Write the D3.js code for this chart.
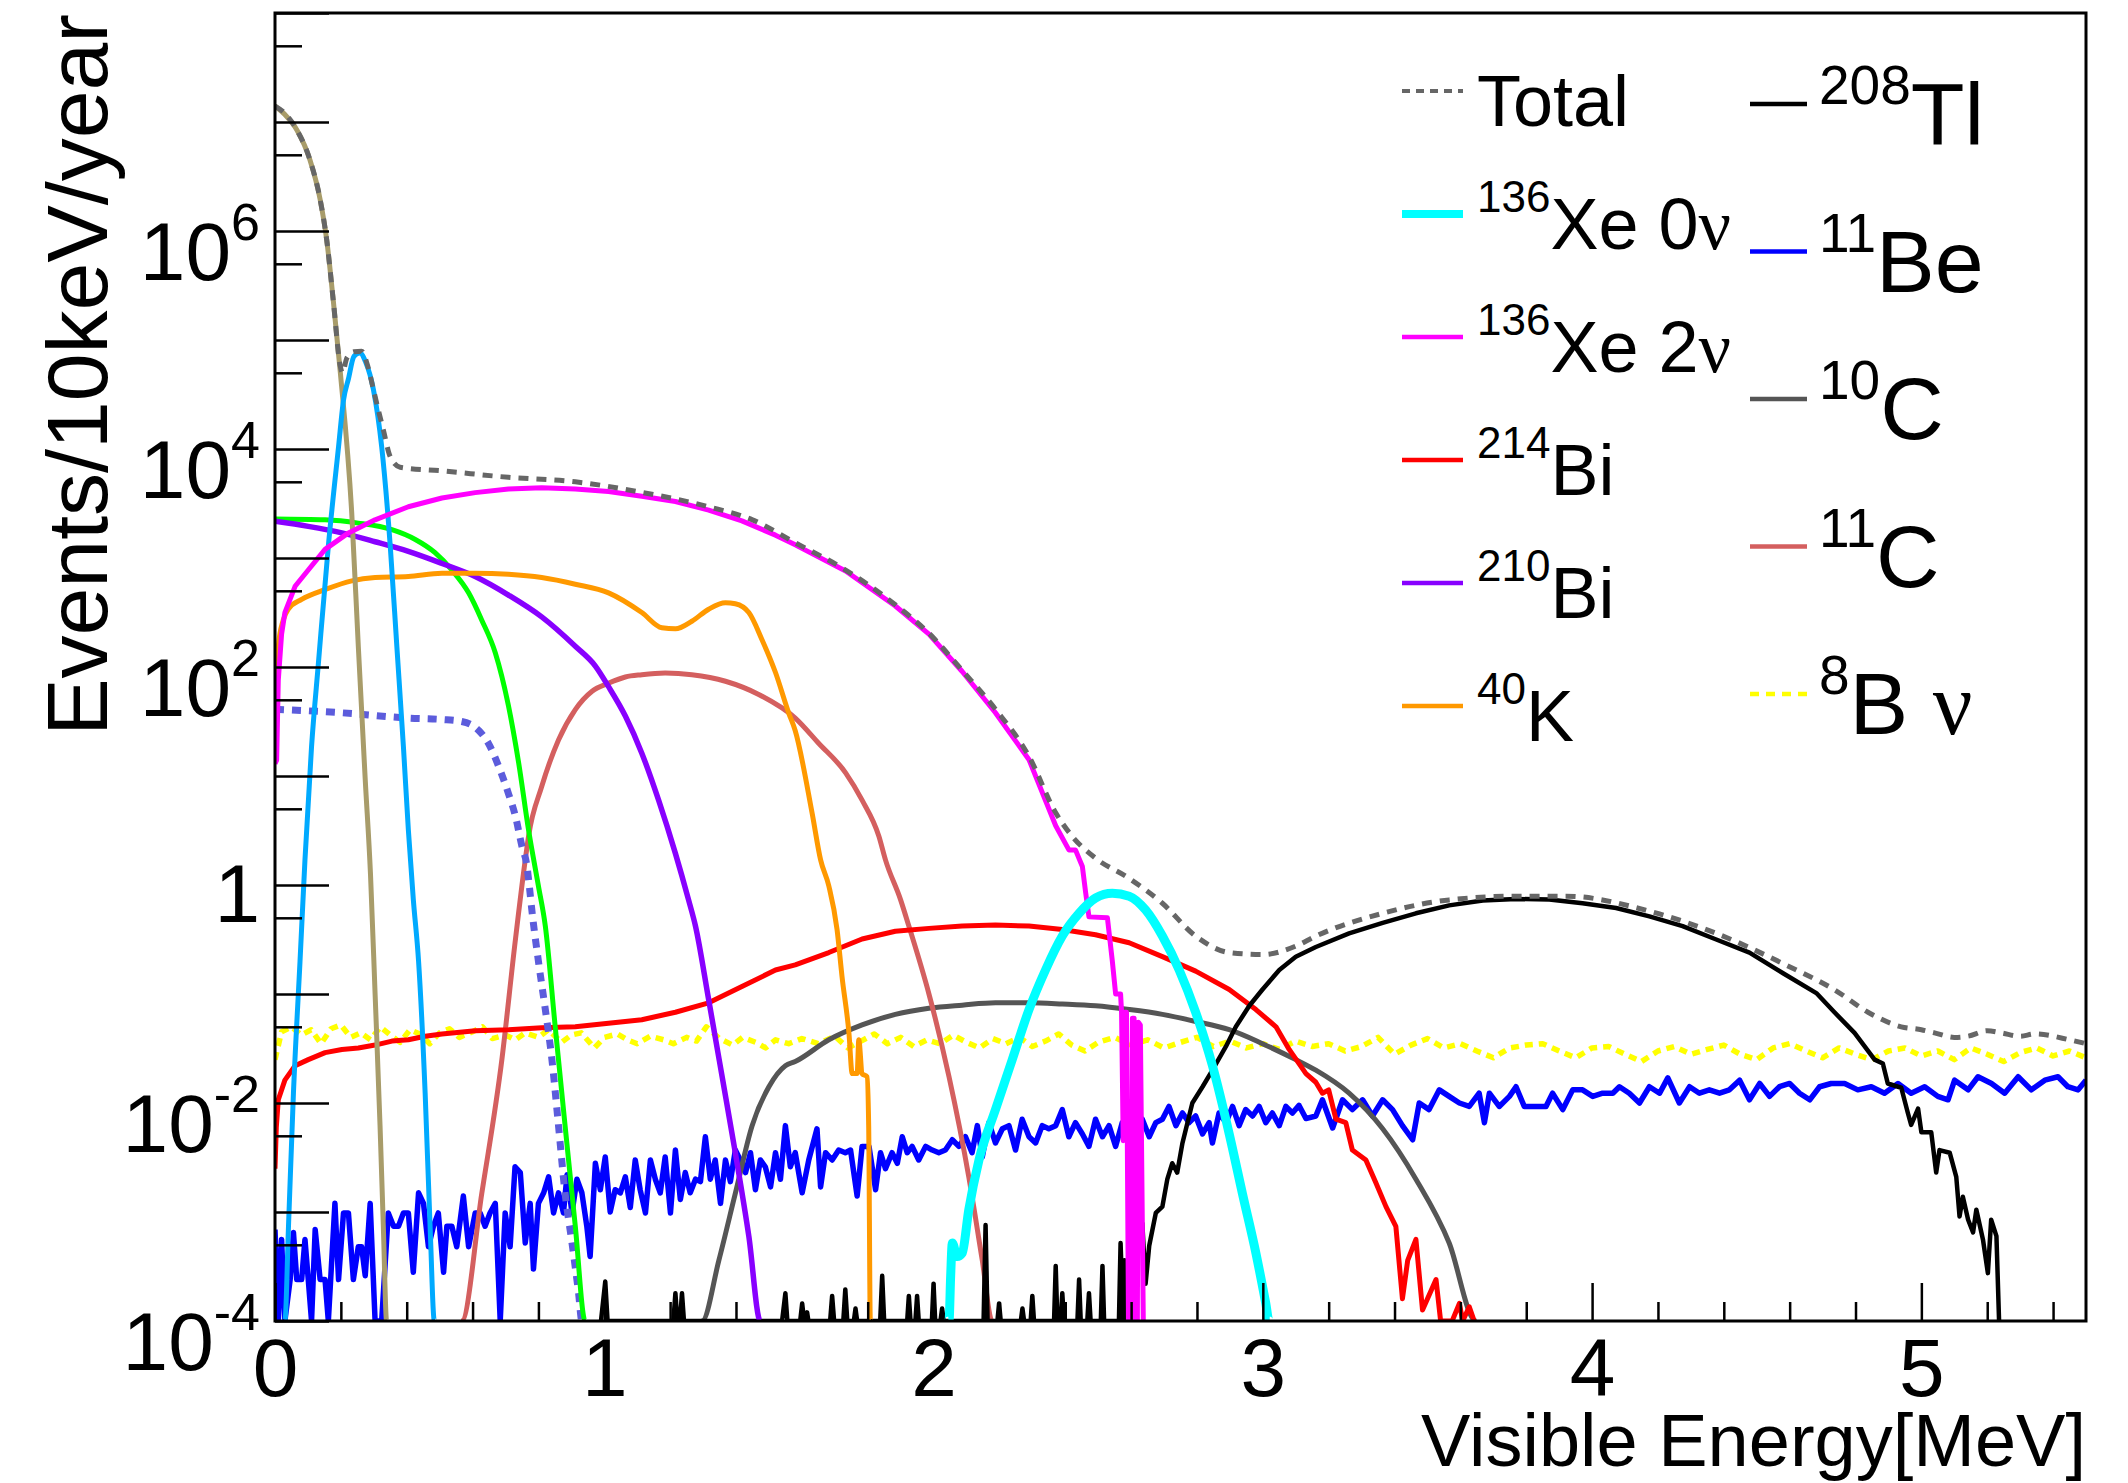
<!DOCTYPE html>
<html>
<head>
<meta charset="utf-8">
<script src="https://cdnjs.cloudflare.com/ajax/libs/d3/7.8.5/d3.min.js"></script>
<style>
  body { margin: 0; background: #fff; }
  text { font-family: "Liberation Sans", Arial, Helvetica, sans-serif; fill: #000; }
</style>
</head>
<body>
<div id="my_dataviz"></div>
<script>
// every series: [visible energy (MeV), events/10keV/year], 0 = empty bin
var totalData = [[0,1.4e7],[0.03,1.2e7],[0.066,8.5e6],[0.106,4.5e6],[0.137,1.95e6],[0.157,8.3e5],[0.177,2.3e5],[0.198,5.8e4],[0.205,5.0e4],[0.218,6.8e4],[0.24,7.8e4],[0.263,7.9e4],[0.28,6.0e4],[0.299,3.5e4],[0.315,2.2e4],[0.329,1.5e4],[0.35,8.5e3],[0.38,6.8e3],[0.507,6.3e3],[0.709,5.5e3],[0.912,5.0e3],[1.114,4.0e3],[1.317,2.95e3],[1.45,2.24e3],[1.58,1.38e3],[1.733,776],[1.884,372],[1.986,204],[2.087,93],[2.188,41],[2.29,15.1],[2.371,4.6],[2.421,2.8],[2.49,1.78],[2.594,1.15],[2.695,0.68],[2.796,0.34],[2.898,0.24],[2.999,0.23],[3.1,0.275],[3.161,0.34],[3.364,0.55],[3.566,0.73],[3.769,0.79],[3.921,0.79],[4.174,0.575],[4.377,0.36],[4.58,0.19],[4.741,0.107],[4.838,0.068],[4.939,0.05],[5.0,0.047],[5.04,0.044],[5.1,0.04],[5.142,0.041],[5.2,0.046],[5.243,0.044],[5.3,0.041],[5.344,0.043],[5.45,0.038],[5.5,0.035]];

var xe0nData = [[2.045,0],[2.047,1e-4],[2.052,2.6e-4],[2.057,5.2e-4],[2.072,3.9e-4],[2.087,4.2e-4],[2.107,1.05e-3],[2.138,3.0e-3],[2.188,8.7e-3],[2.239,2.5e-2],[2.29,7.2e-2],[2.34,0.166],[2.391,0.34],[2.442,0.55],[2.492,0.76],[2.543,0.84],[2.594,0.79],[2.644,0.59],[2.695,0.34],[2.746,0.166],[2.796,6.8e-2],[2.847,2.2e-2],[2.898,5.2e-3],[2.938,1.48e-3],[2.979,4.2e-4],[3.009,1.45e-4],[3.019,1e-4],[3.021,0]];

var xe2nData = [[0,13],[0.005,14],[0.01,76],[0.02,200],[0.03,316],[0.061,550],[0.101,776],[0.152,1.2e3],[0.223,1.7e3],[0.304,2.24e3],[0.405,2.95e3],[0.507,3.55e3],[0.608,3.98e3],[0.709,4.3e3],[0.81,4.4e3],[0.912,4.3e3],[1.013,4.07e3],[1.114,3.68e3],[1.216,3.3e3],[1.317,2.75e3],[1.418,2.19e3],[1.52,1.62e3],[1.58,1.32e3],[1.733,760],[1.884,363],[1.986,200],[2.087,91],[2.188,38],[2.29,14.1],[2.371,3.5],[2.411,2.1],[2.431,2.1],[2.452,1.48],[2.462,0.85],[2.472,0.51],[2.528,0.5],[2.543,0.2],[2.553,0.1],[2.568,0.1],[2.571,0.068],[2.576,4.5e-3],[2.581,0.068],[2.586,0.068],[2.592,0],[2.6,0],[2.604,0.06],[2.609,0.06],[2.613,0],[2.619,0],[2.622,0.055],[2.628,0.052],[2.637,0]];

var bi214Data = [[0,2.5e-3],[0.004,6e-3],[0.01,1.07e-2],[0.03,1.62e-2],[0.061,2.2e-2],[0.101,2.5e-2],[0.152,2.9e-2],[0.203,3.1e-2],[0.253,3.2e-2],[0.304,3.4e-2],[0.355,3.7e-2],[0.405,3.8e-2],[0.456,4.1e-2],[0.507,4.3e-2],[0.608,4.6e-2],[0.709,4.7e-2],[0.81,4.9e-2],[0.912,5.0e-2],[1.013,5.4e-2],[1.114,5.8e-2],[1.216,6.8e-2],[1.317,8.3e-2],[1.418,0.117],[1.52,0.166],[1.58,0.185],[1.682,0.24],[1.783,0.32],[1.884,0.376],[1.986,0.4],[2.087,0.42],[2.188,0.43],[2.29,0.42],[2.391,0.39],[2.492,0.35],[2.594,0.295],[2.695,0.22],[2.796,0.162],[2.898,0.11],[2.979,7.2e-2],[3.04,5.0e-2],[3.08,3.1e-2],[3.131,1.86e-2],[3.161,1.55e-2],[3.181,1.23e-2],[3.2,1.32e-2],[3.222,7.1e-3],[3.252,6.6e-3],[3.272,3.7e-3],[3.313,3.0e-3],[3.343,1.86e-3],[3.374,1.12e-3],[3.404,7.4e-4],[3.424,1.6e-4],[3.44,3.6e-4],[3.465,5.6e-4],[3.485,1.26e-4],[3.526,2.4e-4],[3.54,0],[3.575,0],[3.597,1.45e-4],[3.607,0],[3.627,1.35e-4],[3.642,0]];

var bi210Data = [[0,2.17e3],[0.101,1.95e3],[0.203,1.7e3],[0.304,1.41e3],[0.405,1.15e3],[0.507,891],[0.608,676],[0.709,457],[0.81,288],[0.912,155],[0.973,102],[1.013,66],[1.064,35.5],[1.114,16.2],[1.165,6.0],[1.216,1.95],[1.256,0.73],[1.277,0.42],[1.317,8.9e-2],[1.358,1.74e-2],[1.398,3.5e-3],[1.439,6.0e-4],[1.474,1e-4],[1.477,0]];

var k40Data = [[0,58],[0.01,155],[0.025,269],[0.04,339],[0.081,417],[0.152,513],[0.233,617],[0.304,661],[0.405,676],[0.507,724],[0.608,724],[0.709,708],[0.81,661],[0.912,575],[1.013,479],[1.114,316],[1.175,229],[1.216,224],[1.266,263],[1.317,339],[1.368,389],[1.398,380],[1.439,316],[1.479,178],[1.52,89],[1.56,38],[1.58,26],[1.631,4.6],[1.657,1.7],[1.682,0.98],[1.707,0.39],[1.722,0.145],[1.743,4.4e-2],[1.753,1.86e-2],[1.768,1.86e-2],[1.773,3.8e-2],[1.783,1.86e-2],[1.798,1.74e-2],[1.803,6.2e-3],[1.808,1e-4],[1.81,0]];

var tl208Data = [[0.99,0],[1.003,2.3e-4],[1.01,0],[1.21,0],[1.216,1.8e-4],[1.222,0],[1.23,0],[1.236,1.8e-4],[1.242,0],[1.54,0],[1.55,1.8e-4],[1.556,0],[1.595,0],[1.601,1.45e-4],[1.607,0],[1.612,0],[1.616,1.2e-4],[1.62,0],[1.686,0],[1.692,1.7e-4],[1.698,0],[1.726,0],[1.732,1.95e-4],[1.738,0],[1.758,0],[1.763,1.3e-4],[1.768,0],[1.838,0],[1.844,2.6e-4],[1.85,0],[1.92,0],[1.925,1.7e-4],[1.93,0],[1.945,0],[1.95,1.7e-4],[1.955,0],[1.995,0],[2.0,2.2e-4],[2.005,0],[2.021,0],[2.026,1.3e-4],[2.031,0],[2.152,0],[2.158,7.6e-4],[2.164,0],[2.194,0],[2.199,1.45e-4],[2.204,0],[2.265,0],[2.27,1.3e-4],[2.275,0],[2.295,0],[2.3,1.7e-4],[2.305,0],[2.366,0],[2.371,3.2e-4],[2.376,0],[2.386,0],[2.391,1.8e-4],[2.396,0],[2.437,0],[2.442,2.4e-4],[2.447,0],[2.467,0],[2.472,1.8e-4],[2.477,0],[2.508,0],[2.513,3.2e-4],[2.518,0],[2.563,0],[2.568,5.2e-4],[2.576,0],[2.58,3.6e-4],[2.59,0],[2.599,4.2e-4],[2.614,3.6e-4],[2.634,7.9e-4],[2.644,2.2e-4],[2.655,4.9e-4],[2.675,9.8e-4],[2.695,1.12e-3],[2.71,2.0e-3],[2.725,2.8e-3],[2.74,2.3e-3],[2.756,4.3e-3],[2.786,1.0e-2],[2.817,1.41e-2],[2.847,2.0e-2],[2.888,3.3e-2],[2.918,5.0e-2],[2.959,7.8e-2],[2.999,0.11],[3.05,0.166],[3.1,0.22],[3.161,0.27],[3.262,0.36],[3.364,0.45],[3.465,0.55],[3.566,0.65],[3.668,0.72],[3.769,0.745],[3.87,0.735],[3.971,0.68],[4.073,0.615],[4.174,0.516],[4.275,0.42],[4.377,0.316],[4.478,0.24],[4.58,0.155],[4.681,0.102],[4.736,6.8e-2],[4.797,4.4e-2],[4.858,2.5e-2],[4.883,2.3e-2],[4.898,1.51e-2],[4.939,1.38e-2],[4.959,8.1e-3],[4.969,6.3e-3],[4.99,8.9e-3],[5.0,5.4e-3],[5.03,5.4e-3],[5.045,2.3e-3],[5.055,3.7e-3],[5.086,3.5e-3],[5.106,2.1e-3],[5.116,9.1e-4],[5.126,1.38e-3],[5.142,8.5e-4],[5.157,6.5e-4],[5.167,1.05e-3],[5.187,5.6e-4],[5.202,2.75e-4],[5.212,8.5e-4],[5.228,6.0e-4],[5.236,1e-4],[5.238,0]];

var be11Data = [[0,6.9e-4],[0.01,0],[0.02,5.6e-4],[0.03,0],[0.046,2.4e-4],[0.056,6.5e-4],[0.066,2.4e-4],[0.081,2.4e-4],[0.091,5.6e-4],[0.101,2.4e-4],[0.111,0],[0.122,6.9e-4],[0.137,2.4e-4],[0.152,2.4e-4],[0.162,0],[0.182,1.2e-3],[0.193,2.4e-4],[0.208,9.8e-4],[0.223,9.8e-4],[0.238,2.4e-4],[0.253,4.8e-4],[0.263,4.8e-4],[0.274,2.6e-4],[0.289,1.2e-3],[0.304,0],[0.324,0],[0.344,9.8e-4],[0.36,7.4e-4],[0.375,7.4e-4],[0.39,9.8e-4],[0.405,9.8e-4],[0.42,2.8e-4],[0.436,1.5e-3],[0.451,1.2e-3],[0.466,4.8e-4],[0.481,7.4e-4],[0.496,9.8e-4],[0.512,2.8e-4],[0.522,7.4e-4],[0.537,7.4e-4],[0.552,4.8e-4],[0.572,1.4e-3],[0.588,4.8e-4],[0.608,9.8e-4],[0.623,9.8e-4],[0.638,7.4e-4],[0.653,9.8e-4],[0.669,1.2e-3],[0.684,0],[0.699,9.8e-4],[0.714,4.8e-4],[0.729,2.6e-3],[0.745,2.3e-3],[0.76,5.2e-4],[0.775,1.2e-3],[0.785,3.0e-4],[0.8,1.2e-3],[0.816,1.5e-3],[0.831,2.1e-3],[0.846,9.8e-4],[0.861,1.5e-3],[0.876,9.8e-4],[0.887,2.2e-3],[0.902,9.8e-4],[0.917,2.0e-3],[0.932,1.5e-3],[0.947,7.4e-4],[0.957,3.9e-4],[0.973,2.8e-3],[0.988,1.6e-3],[1.003,3.2e-3],[1.018,1.0e-3],[1.033,1.6e-3],[1.049,1.5e-3],[1.064,2.1e-3],[1.079,1.1e-3],[1.094,3.0e-3],[1.109,1.6e-3],[1.125,9.8e-4],[1.14,3.0e-3],[1.155,2.0e-3],[1.17,1.5e-3],[1.185,3.2e-3],[1.201,9.8e-4],[1.216,3.7e-3],[1.231,1.3e-3],[1.246,2.3e-3],[1.261,1.5e-3],[1.277,2.0e-3],[1.292,1.9e-3],[1.307,4.9e-3],[1.322,2.0e-3],[1.337,3.0e-3],[1.353,1.2e-3],[1.368,3.0e-3],[1.383,1.9e-3],[1.398,3.7e-3],[1.413,3.0e-3],[1.429,2.3e-3],[1.444,3.5e-3],[1.459,1.6e-3],[1.474,3.0e-3],[1.489,2.6e-3],[1.505,1.7e-3],[1.52,3.5e-3],[1.535,2.0e-3],[1.55,6.2e-3],[1.565,2.6e-3],[1.58,3.5e-3],[1.601,1.5e-3],[1.621,3.0e-3],[1.646,5.8e-3],[1.657,1.7e-3],[1.672,3.5e-3],[1.692,3.0e-3],[1.712,3.7e-3],[1.732,3.5e-3],[1.748,3.7e-3],[1.768,1.4e-3],[1.783,4.0e-3],[1.804,4.0e-3],[1.824,1.6e-3],[1.839,3.5e-3],[1.854,2.5e-3],[1.874,3.5e-3],[1.89,2.8e-3],[1.905,4.9e-3],[1.92,3.5e-3],[1.935,4.0e-3],[1.955,3.0e-3],[1.976,4.0e-3],[1.996,3.7e-3],[2.016,3.5e-3],[2.036,3.7e-3],[2.057,4.6e-3],[2.077,4.0e-3],[2.097,4.9e-3],[2.117,3.5e-3],[2.133,6.2e-3],[2.148,3.2e-3],[2.168,6.6e-3],[2.188,4.3e-3],[2.209,5.8e-3],[2.229,6.2e-3],[2.249,3.7e-3],[2.269,7.1e-3],[2.29,4.9e-3],[2.31,4.3e-3],[2.33,6.2e-3],[2.35,5.8e-3],[2.371,6.2e-3],[2.391,8.7e-3],[2.411,4.9e-3],[2.431,6.6e-3],[2.452,5.2e-3],[2.472,4.0e-3],[2.492,7.1e-3],[2.513,4.9e-3],[2.533,6.2e-3],[2.553,4.0e-3],[2.573,6.6e-3],[2.594,7.6e-3],[2.614,6.2e-3],[2.634,7.1e-3],[2.655,4.9e-3],[2.675,6.6e-3],[2.695,7.1e-3],[2.715,9.3e-3],[2.736,6.2e-3],[2.756,8.1e-3],[2.776,6.6e-3],[2.796,7.6e-3],[2.817,5.2e-3],[2.837,6.6e-3],[2.847,4.3e-3],[2.867,8.1e-3],[2.888,6.6e-3],[2.908,9.3e-3],[2.928,6.2e-3],[2.948,8.7e-3],[2.969,7.6e-3],[2.989,9.3e-3],[3.009,6.6e-3],[3.029,8.1e-3],[3.05,6.2e-3],[3.07,9.3e-3],[3.09,8.1e-3],[3.11,9.5e-3],[3.131,7.2e-3],[3.161,7.6e-3],[3.181,1.07e-2],[3.212,5.9e-3],[3.242,1.07e-2],[3.272,8.7e-3],[3.303,1.07e-2],[3.333,7.6e-3],[3.364,1.07e-2],[3.394,8.7e-3],[3.424,6.2e-3],[3.455,4.6e-3],[3.475,1.0e-2],[3.505,8.7e-3],[3.536,1.32e-2],[3.566,1.15e-2],[3.597,1.0e-2],[3.627,9.3e-3],[3.657,1.23e-2],[3.673,6.6e-3],[3.688,1.23e-2],[3.718,9.3e-3],[3.749,1.15e-2],[3.769,1.41e-2],[3.794,9.3e-3],[3.83,9.3e-3],[3.86,9.3e-3],[3.88,1.23e-2],[3.911,8.7e-3],[3.941,1.32e-2],[3.971,1.32e-2],[4.002,1.15e-2],[4.032,1.23e-2],[4.063,1.23e-2],[4.083,1.41e-2],[4.113,1.23e-2],[4.144,1.0e-2],[4.174,1.41e-2],[4.205,1.23e-2],[4.23,1.7e-2],[4.265,1.0e-2],[4.296,1.41e-2],[4.326,1.23e-2],[4.356,1.32e-2],[4.387,1.23e-2],[4.417,1.32e-2],[4.448,1.62e-2],[4.478,1.07e-2],[4.509,1.51e-2],[4.539,1.15e-2],[4.569,1.41e-2],[4.6,1.51e-2],[4.63,1.23e-2],[4.661,1.07e-2],[4.691,1.41e-2],[4.726,1.51e-2],[4.767,1.51e-2],[4.807,1.32e-2],[4.848,1.41e-2],[4.888,1.23e-2],[4.929,1.51e-2],[4.969,1.23e-2],[5.01,1.41e-2],[5.05,1.15e-2],[5.081,1.07e-2],[5.101,1.62e-2],[5.142,1.32e-2],[5.172,1.74e-2],[5.213,1.51e-2],[5.253,1.23e-2],[5.294,1.74e-2],[5.334,1.32e-2],[5.375,1.62e-2],[5.415,1.74e-2],[5.445,1.41e-2],[5.476,1.32e-2],[5.5,1.62e-2]];

var c10Data = [[1.295,0],[1.297,1e-4],[1.348,3.6e-4],[1.398,1.48e-3],[1.449,6.2e-3],[1.5,1.41e-2],[1.55,2.2e-2],[1.58,2.4e-2],[1.682,3.8e-2],[1.783,5.2e-2],[1.884,6.5e-2],[1.986,7.4e-2],[2.087,7.9e-2],[2.188,8.3e-2],[2.29,8.3e-2],[2.391,8.1e-2],[2.492,7.8e-2],[2.594,7.2e-2],[2.695,6.5e-2],[2.796,5.6e-2],[2.898,4.7e-2],[2.999,3.5e-2],[3.1,2.5e-2],[3.161,2.0e-2],[3.262,1.23e-2],[3.364,5.8e-3],[3.465,2.0e-3],[3.566,5.2e-4],[3.647,1e-4],[3.649,0]];

var c11Data = [[0.565,0],[0.567,1e-4],[0.628,1.48e-3],[0.689,2.5e-2],[0.729,0.295],[0.76,1.7],[0.77,2.8],[0.81,8.0],[0.861,21.4],[0.912,40.7],[0.963,60],[1.013,71],[1.064,81],[1.114,85],[1.185,88],[1.266,85],[1.368,74],[1.469,56],[1.58,34],[1.651,20],[1.733,10.7],[1.783,6.0],[1.834,2.8],[1.854,1.7],[1.9,0.73],[1.925,0.42],[1.986,0.1],[2.047,1.74e-2],[2.107,2.1e-3],[2.148,3.6e-4],[2.178,1e-4],[2.18,0]];

var b8Data = [[0,2.5e-2],[0.02,4.5e-2],[0.05,5.0e-2],[0.08,4.2e-2],[0.11,4.7e-2],[0.14,3.5e-2],[0.17,4.8e-2],[0.2,5.2e-2],[0.23,4.0e-2],[0.26,4.4e-2],[0.29,3.8e-2],[0.32,5.0e-2],[0.35,4.2e-2],[0.38,3.6e-2],[0.41,4.7e-2],[0.44,4.3e-2],[0.47,3.5e-2],[0.5,4.4e-2],[0.53,4.8e-2],[0.56,4.0e-2],[0.6,4.5e-2],[0.63,5.0e-2],[0.66,3.9e-2],[0.7,4.2e-2],[0.73,3.8e-2],[0.76,4.4e-2],[0.8,4.0e-2],[0.83,4.7e-2],[0.87,3.6e-2],[0.9,4.2e-2],[0.93,4.4e-2],[0.97,3.2e-2],[1.0,4.0e-2],[1.04,4.3e-2],[1.07,3.8e-2],[1.1,3.5e-2],[1.14,4.1e-2],[1.18,3.8e-2],[1.21,3.5e-2],[1.25,4.0e-2],[1.28,3.7e-2],[1.31,5.0e-2],[1.35,3.9e-2],[1.39,3.4e-2],[1.42,4.0e-2],[1.46,3.6e-2],[1.49,3.2e-2],[1.52,3.8e-2],[1.56,3.5e-2],[1.6,3.9e-2],[1.65,3.5e-2],[1.7,4.1e-2],[1.74,3.2e-2],[1.78,3.7e-2],[1.82,4.3e-2],[1.86,3.5e-2],[1.9,4.0e-2],[1.94,3.3e-2],[1.98,3.8e-2],[2.02,3.5e-2],[2.06,4.2e-2],[2.1,3.6e-2],[2.14,3.2e-2],[2.18,3.9e-2],[2.22,3.5e-2],[2.26,4.0e-2],[2.3,3.3e-2],[2.34,3.7e-2],[2.38,4.3e-2],[2.42,3.4e-2],[2.46,3.0e-2],[2.5,3.6e-2],[2.55,4.0e-2],[2.6,3.4e-2],[2.65,3.8e-2],[2.7,3.2e-2],[2.75,3.6e-2],[2.8,4.0e-2],[2.85,3.3e-2],[2.9,3.7e-2],[2.95,3.2e-2],[3.0,3.5e-2],[3.05,3.1e-2],[3.1,3.7e-2],[3.15,3.3e-2],[3.2,3.5e-2],[3.25,3.0e-2],[3.3,3.3e-2],[3.35,4.0e-2],[3.4,2.8e-2],[3.45,3.4e-2],[3.5,3.9e-2],[3.55,3.2e-2],[3.6,3.5e-2],[3.65,3.0e-2],[3.7,2.6e-2],[3.75,3.2e-2],[3.8,3.4e-2],[3.85,3.5e-2],[3.9,3.0e-2],[3.95,2.6e-2],[4.0,3.2e-2],[4.05,3.3e-2],[4.1,2.8e-2],[4.15,2.4e-2],[4.2,3.0e-2],[4.25,3.3e-2],[4.3,2.8e-2],[4.35,3.1e-2],[4.4,3.4e-2],[4.45,2.8e-2],[4.5,2.5e-2],[4.55,3.2e-2],[4.6,3.5e-2],[4.65,3.0e-2],[4.7,2.6e-2],[4.75,3.2e-2],[4.8,2.8e-2],[4.85,2.5e-2],[4.9,3.0e-2],[4.95,3.2e-2],[5.0,2.7e-2],[5.05,3.0e-2],[5.1,2.5e-2],[5.15,3.2e-2],[5.2,2.8e-2],[5.25,2.4e-2],[5.3,2.9e-2],[5.35,3.2e-2],[5.4,2.7e-2],[5.45,3.0e-2],[5.5,2.6e-2]];

// drawn in the plot but without a legend entry
var c14Data = [[0,1.4e7],[0.03,1.17e7],[0.066,8.5e6],[0.106,4.5e6],[0.137,1.95e6],[0.157,8.3e5],[0.177,2.3e5],[0.198,5.2e4],[0.233,2.6e3],[0.253,155],[0.274,9.3],[0.29,1.26],[0.304,0.1],[0.319,6.2e-3],[0.329,7.4e-4],[0.339,1e-4],[0.342,0]];
var po210Data = [[0.028,0],[0.03,1e-4],[0.041,7.4e-4],[0.056,1.23e-2],[0.076,0.2],[0.091,1.7],[0.111,18.6],[0.132,110],[0.162,1.29e3],[0.193,1.05e4],[0.208,2.8e4],[0.223,4.4e4],[0.24,7.1e4],[0.258,7.6e4],[0.275,6.3e4],[0.299,3.5e4],[0.324,1.05e4],[0.35,1.29e3],[0.37,155],[0.39,18.6],[0.405,3.2],[0.42,0.74],[0.436,0.2],[0.456,1.23e-2],[0.471,7.4e-4],[0.484,1e-4],[0.486,0]];
var kr85Data = [[0,2.28e3],[0.152,2.24e3],[0.253,2.09e3],[0.355,1.82e3],[0.426,1.48e3],[0.486,1.12e3],[0.537,776],[0.588,479],[0.628,269],[0.669,135],[0.709,44],[0.74,13.2],[0.77,3.2],[0.8,0.98],[0.821,0.42],[0.851,5.0e-2],[0.881,6.2e-3],[0.912,7.4e-4],[0.942,1e-4],[0.944,0]];
var be7Data = [[0,41],[0.203,38],[0.405,34],[0.507,33],[0.567,31.6],[0.618,26.3],[0.648,20],[0.679,12.3],[0.709,6.9],[0.73,4.3],[0.75,2.26],[0.765,1.5],[0.772,1.0],[0.78,0.59],[0.8,0.2],[0.821,7.2e-2],[0.841,2.5e-2],[0.861,6.2e-3],[0.881,1.48e-3],[0.902,5.2e-4],[0.922,1.8e-4],[0.932,1e-4],[0.934,0]];

var xMajorTicks = [0, 1, 2, 3, 4, 5];
var yLabelExponents = [-4, -2, 0, 2, 4, 6];

var legendLeft = [
  {sup: '', main: 'Total', nu: ''},
  {sup: '136', main: 'Xe 0', nu: 'ν'},
  {sup: '136', main: 'Xe 2', nu: 'ν'},
  {sup: '214', main: 'Bi', nu: ''},
  {sup: '210', main: 'Bi', nu: ''},
  {sup: '40', main: 'K', nu: ''}
];
var legendRight = [
  {sup: '208', main: 'Tl', nu: ''},
  {sup: '11', main: 'Be', nu: ''},
  {sup: '10', main: 'C', nu: ''},
  {sup: '11', main: 'C', nu: ''},
  {sup: '8', main: 'B ', nu: 'ν'}
];

document.addEventListener('DOMContentLoaded', function () {
    var width = 2128, height = 1483;
    var frame = {left: 275, right: 2086, top: 13, bottom: 1321};

    var svg = d3.select('#my_dataviz').append('svg')
        .attr('width', width).attr('height', height);

    var x = d3.scaleLinear().domain([0, 5.5]).range([frame.left, frame.right]);
    var y = d3.scaleLog().domain([1e-4, 1e8]).range([frame.bottom, frame.top]).clamp(true);

    svg.append('clipPath').attr('id', 'plotclip').append('rect')
        .attr('x', frame.left).attr('y', frame.top)
        .attr('width', frame.right - frame.left).attr('height', frame.bottom - frame.top);

    // line styles (ROOT-like)
    var styles = [
        {data: b8Data,    color: '#ffff00', w: 5.5, dash: '8,6',  smooth: false},
        {data: be11Data,  color: '#0000ff', w: 5.5, dash: null,   smooth: false},
        {data: c10Data,   color: '#555555', w: 5,   dash: null,   smooth: true},
        {data: c11Data,   color: '#d45f5f', w: 5,   dash: null,   smooth: true},
        {data: bi214Data, color: '#ff0000', w: 5,   dash: null,   smooth: false},
        {data: tl208Data, color: '#000000', w: 4.5, dash: null,   smooth: false},
        {data: be7Data,   color: '#5c5cdc', w: 7,   dash: '9,8',  smooth: true},
        {data: kr85Data,  color: '#00ff00', w: 5,   dash: null,   smooth: true},
        {data: bi210Data, color: '#8800ff', w: 5.5, dash: null,   smooth: true},
        {data: k40Data,   color: '#ff9900', w: 5,   dash: null,   smooth: true},
        {data: c14Data,   color: '#a89c6a', w: 5,   dash: null,   smooth: true},
        {data: po210Data, color: '#00aaff', w: 5,   dash: null,   smooth: true},
        {data: xe2nData,  color: '#ff00ff', w: 5,   dash: null,   smooth: false},
        {data: xe0nData,  color: '#00ffff', w: 9,   dash: null,   smooth: true},
        {data: totalData, color: '#666666', w: 5,   dash: '10,8', smooth: true}
    ];

    var plotG = svg.append('g').attr('clip-path', 'url(#plotclip)');
    styles.forEach(function (s) {
        var line = d3.line()
            .x(function (d) { return x(d[0]); })
            .y(function (d) { return y(d[1]); })
            .curve(s.smooth ? d3.curveMonotoneX : d3.curveLinear);
        plotG.append('path')
            .datum(s.data)
            .attr('d', line)
            .attr('fill', 'none')
            .attr('stroke', s.color)
            .attr('stroke-width', s.w)
            .attr('stroke-linejoin', 'round')
            .attr('stroke-dasharray', s.dash);
    });

    // x axis ticks
    var xMinor = d3.range(0.2, 5.5, 0.2).filter(function (v) { return Math.abs(v - Math.round(v)) > 0.01; });
    var xAxisG = svg.append('g').attr('transform', 'translate(0,' + frame.bottom + ')')
        .call(d3.axisBottom(x).tickValues(xMajorTicks).tickSizeInner(-38).tickSizeOuter(0)
              .tickPadding(17).tickFormat(d3.format('d')));
    svg.append('g').attr('transform', 'translate(0,' + frame.bottom + ')')
        .call(d3.axisBottom(x).tickValues(xMinor).tickSizeInner(-19).tickSizeOuter(0).tickFormat(''));

    // y axis ticks: decades long, 5x10^n short
    var yMajor = d3.range(-4, 9).map(function (e) { return Math.pow(10, e); });
    var yMinor = d3.range(-4, 8).map(function (e) { return 5 * Math.pow(10, e); });
    svg.append('g').attr('transform', 'translate(' + frame.left + ',0)')
        .call(d3.axisLeft(y).tickValues(yMajor).tickSizeInner(-54).tickSizeOuter(0).tickFormat(''));
    svg.append('g').attr('transform', 'translate(' + frame.left + ',0)')
        .call(d3.axisLeft(y).tickValues(yMinor).tickSizeInner(-27).tickSizeOuter(0).tickFormat(''));

    svg.selectAll('.domain').remove();
    svg.selectAll('.tick line').attr('stroke', '#000').attr('stroke-width', 2.5);
    xAxisG.selectAll('text').attr('font-size', 82).attr('fill', '#000')
        .style('font-family', '"Liberation Sans", Arial, sans-serif');

    // y labels 10^n
    yLabelExponents.forEach(function (e) {
        var ty = y(Math.pow(10, e));
        var t = svg.append('text').attr('x', 260).attr('text-anchor', 'end');
        if (e === 0) {
            t.attr('y', ty + 37).attr('font-size', 82).text('1');
        } else {
            t.attr('y', ty + 49);
            t.append('tspan').attr('font-size', 82).text('10');
            t.append('tspan').attr('font-size', 52).attr('dy', -40).text(String(e));
        }
    });

    // frame
    svg.append('rect')
        .attr('x', frame.left).attr('y', frame.top)
        .attr('width', frame.right - frame.left).attr('height', frame.bottom - frame.top)
        .attr('fill', 'none').attr('stroke', '#000').attr('stroke-width', 3);

    // axis titles
    svg.append('text').attr('x', frame.right).attr('y', 1466)
        .attr('text-anchor', 'end').attr('font-size', 74).text('Visible Energy[MeV]');
    svg.append('text').attr('transform', 'translate(107,14) rotate(-90)')
        .attr('text-anchor', 'end').attr('font-size', 86).text('Events/10keV/year');

    // legends
    function drawEntry(g, item, st, lx1, lx2, rowY, textX, mainSize, supSize, raise, base) {
        g.append('line')
            .attr('x1', lx1).attr('x2', lx2).attr('y1', rowY).attr('y2', rowY)
            .attr('stroke', st.color).attr('stroke-width', st.lw)
            .attr('stroke-dasharray', st.dash);
        var t = g.append('text').attr('x', textX).attr('y', rowY + base);
        if (item.sup) {
            t.append('tspan').attr('font-size', supSize).attr('dy', -raise).text(item.sup);
            t.append('tspan').attr('font-size', mainSize).attr('dy', raise).text(item.main);
        } else {
            t.append('tspan').attr('font-size', mainSize).text(item.main);
        }
        if (item.nu) {
            t.append('tspan').attr('font-size', mainSize)
                .style('font-family', '"Liberation Serif", "DejaVu Serif", serif').text(item.nu);
        }
    }

    var leftStyles = [
        {color: '#666666', lw: 4, dash: '8,6'},
        {color: '#00ffff', lw: 8, dash: null},
        {color: '#ff00ff', lw: 4.5, dash: null},
        {color: '#ff0000', lw: 4.5, dash: null},
        {color: '#8800ff', lw: 4.5, dash: null},
        {color: '#ff9900', lw: 4.5, dash: null}
    ];
    var rightStyles = [
        {color: '#000000', lw: 4.5, dash: null},
        {color: '#0000ff', lw: 4.5, dash: null},
        {color: '#555555', lw: 4.5, dash: null},
        {color: '#d45f5f', lw: 4.5, dash: null},
        {color: '#ffff00', lw: 4.5, dash: '9,7'}
    ];
    var legG = svg.append('g');
    legendLeft.forEach(function (item, i) {
        drawEntry(legG, item, leftStyles[i], 1402, 1463, 91 + i * 123, 1477, 72, 44, 37, 35);
    });
    legendRight.forEach(function (item, i) {
        drawEntry(legG, item, rightStyles[i], 1750, 1807, 104 + i * 147.5, 1819, 88, 55, 40, 40);
    });
});
</script>
</body>
</html>
